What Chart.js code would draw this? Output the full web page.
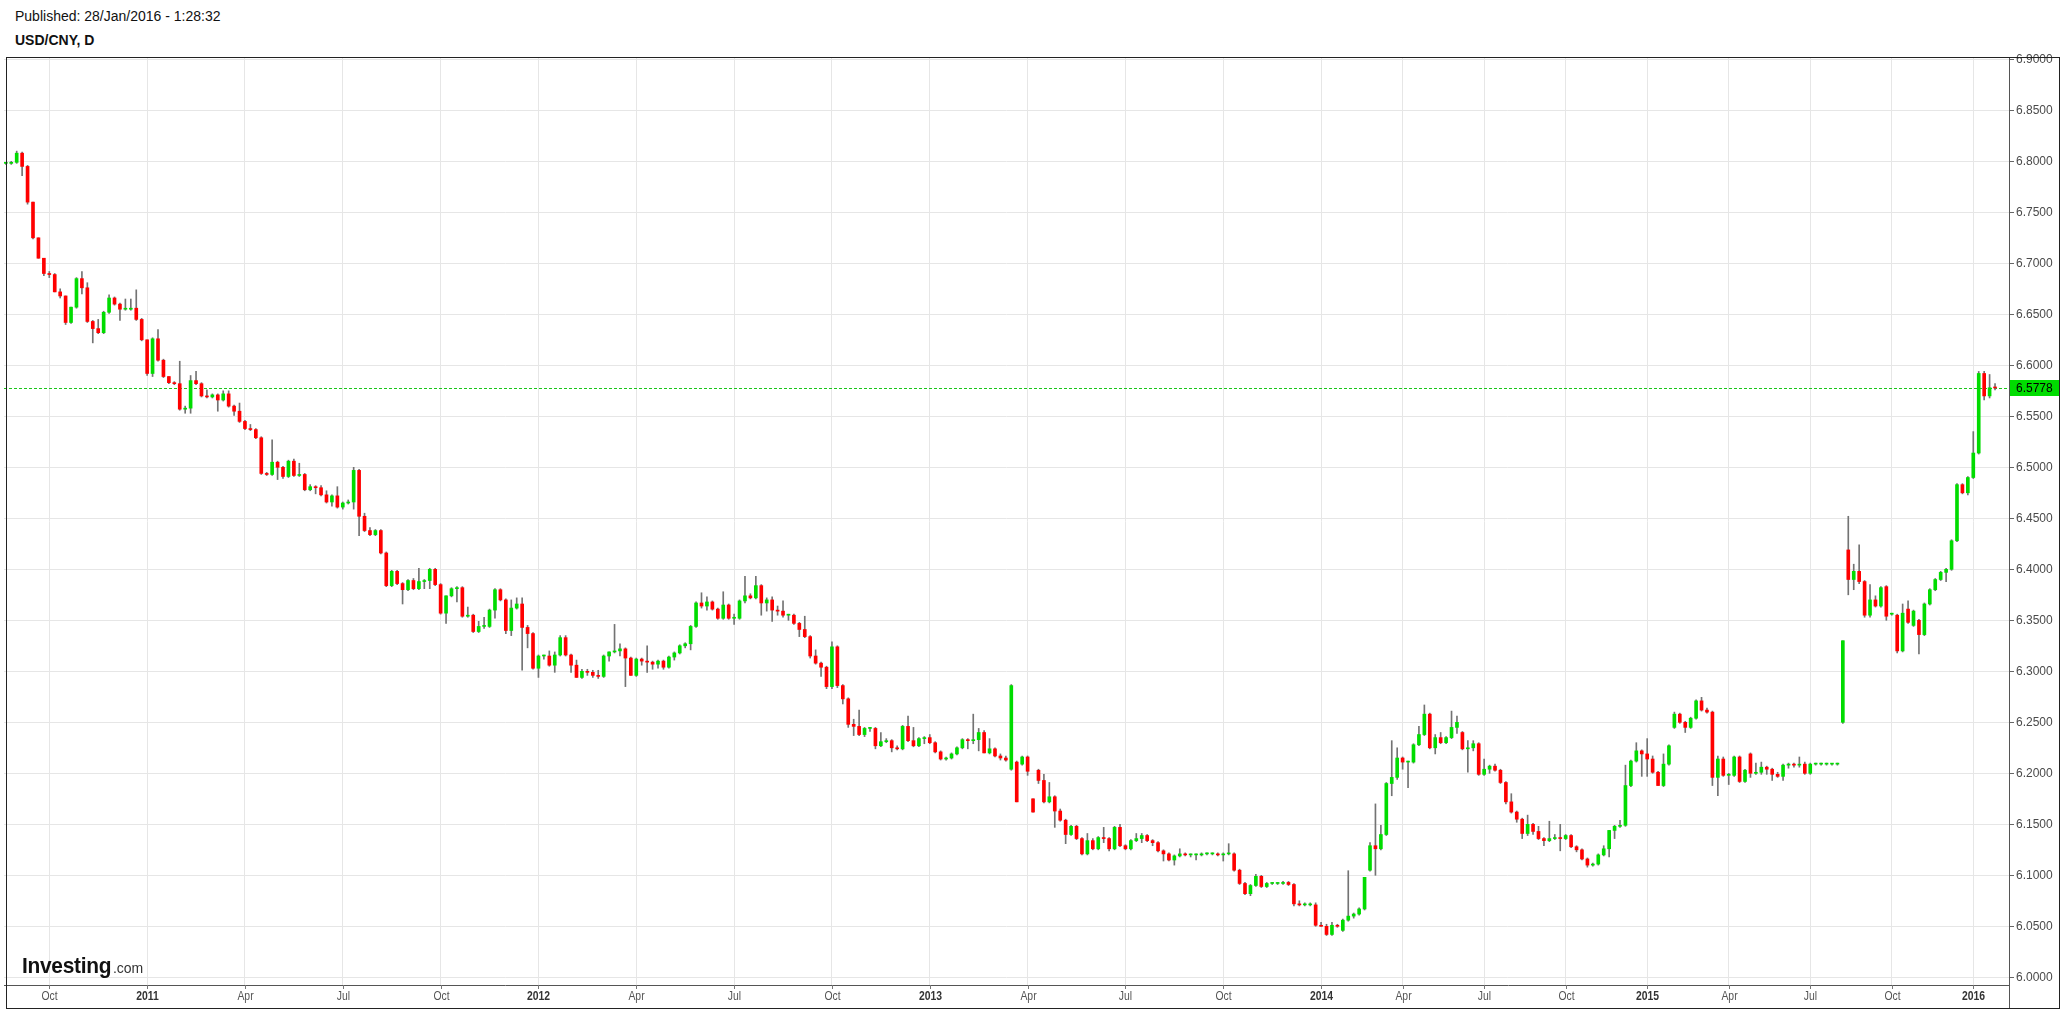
<!DOCTYPE html>
<html>
<head>
<meta charset="utf-8">
<script src="https://cdn.jsdelivr.net/npm/chart.js@4.4.1/dist/chart.umd.min.js"></script>
<style>
html,body{margin:0;padding:0;background:#fff;}
body{width:2061px;height:1010px;position:relative;overflow:hidden;font-family:"Liberation Sans",Arial,sans-serif;}
#pub{position:absolute;left:15px;top:8px;font-size:14px;color:#111;white-space:nowrap;}
#title{position:absolute;left:15px;top:32px;font-size:14px;font-weight:bold;color:#111;white-space:nowrap;}
#c{position:absolute;left:0;top:0;}
#logo{position:absolute;left:22px;top:953px;white-space:nowrap;color:#111;line-height:26px;}
#logo .inv{font-weight:bold;font-size:22px;letter-spacing:-0.3px;display:inline-block;transform:scaleX(0.95);transform-origin:left bottom;}
#logo .com{font-size:14px;color:#333;margin-left:-3px;}
</style>
</head>
<body>
<div id="pub">Published: 28/Jan/2016 - 1:28:32</div>
<div id="title">USD/CNY, D</div>
<canvas id="c" width="2061" height="1010"></canvas>
<div id="logo"><span class="inv">Investing</span><span class="com">.com</span></div>
<script>
// ---- Data (daily USD/CNY candles, sampled) ----
const open = [
6.798,6.798,6.799,6.808,6.795,6.760,6.725,6.705,6.690,6.689,
6.672,6.668,6.642,6.657,6.685,6.676,6.643,6.636,6.632,6.652,
6.666,6.660,6.655,6.655,6.656,6.645,6.625,6.592,6.626,6.605,
6.589,6.583,6.582,6.557,6.558,6.585,6.582,6.570,6.569,6.571,
6.566,6.572,6.560,6.555,6.545,6.538,6.537,6.529,6.494,6.493,
6.505,6.500,6.491,6.506,6.492,6.493,6.478,6.481,6.480,6.473,
6.466,6.472,6.461,6.465,6.466,6.497,6.452,6.438,6.434,6.438,
6.416,6.384,6.398,6.386,6.380,6.389,6.381,6.388,6.389,6.400,
6.385,6.357,6.374,6.381,6.382,6.354,6.355,6.339,6.344,6.344,
6.360,6.380,6.370,6.340,6.362,6.366,6.343,6.337,6.303,6.315,
6.315,6.306,6.316,6.333,6.316,6.306,6.294,6.300,6.299,6.296,
6.295,6.315,6.319,6.320,6.322,6.313,6.296,6.312,6.310,6.309,
6.307,6.310,6.304,6.314,6.318,6.325,6.327,6.344,6.367,6.364,
6.368,6.361,6.352,6.365,6.352,6.352,6.369,6.374,6.372,6.384,
6.367,6.370,6.360,6.359,6.355,6.355,6.347,6.341,6.334,6.315,
6.308,6.304,6.285,6.324,6.286,6.273,6.248,6.246,6.238,6.244,
6.244,6.227,6.231,6.232,6.225,6.224,6.246,6.232,6.227,6.234,
6.235,6.230,6.221,6.214,6.215,6.219,6.225,6.233,6.232,6.233,
6.240,6.220,6.224,6.217,6.215,6.204,6.211,6.209,6.216,6.175,
6.203,6.193,6.172,6.177,6.163,6.154,6.140,6.148,6.136,6.121,
6.134,6.126,6.137,6.136,6.126,6.147,6.129,6.126,6.134,6.136,
6.139,6.134,6.132,6.124,6.121,6.115,6.119,6.121,6.120,6.120,
6.120,6.121,6.121,6.121,6.120,6.121,6.121,6.105,6.092,6.082,
6.090,6.099,6.089,6.092,6.092,6.092,6.093,6.091,6.072,6.071,
6.071,6.071,6.051,6.050,6.042,6.051,6.046,6.056,6.060,6.062,
6.067,6.105,6.129,6.126,6.140,6.190,6.196,6.215,6.211,6.211,
6.228,6.238,6.258,6.225,6.235,6.230,6.235,6.245,6.240,6.224,
6.225,6.229,6.199,6.204,6.207,6.203,6.191,6.172,6.162,6.155,
6.141,6.150,6.143,6.136,6.134,6.136,6.137,6.136,6.139,6.128,
6.125,6.116,6.110,6.111,6.120,6.126,6.144,6.148,6.149,6.188,
6.212,6.222,6.219,6.214,6.201,6.188,6.209,6.245,6.258,6.250,
6.245,6.254,6.271,6.262,6.260,6.196,6.214,6.198,6.198,6.216,
6.192,6.219,6.200,6.201,6.206,6.204,6.199,6.197,6.208,6.209,
6.208,6.209,6.200,6.209,6.209,6.209,6.209,6.209,6.250,6.419,
6.390,6.398,6.388,6.355,6.370,6.364,6.383,6.356,6.355,6.320,
6.361,6.345,6.350,6.336,6.366,6.380,6.390,6.397,6.400,6.428,
6.483,6.475,6.490,6.514,6.592,6.570,6.578];
const high = [
6.799,6.800,6.810,6.809,6.796,6.760,6.725,6.705,6.692,6.690,
6.675,6.668,6.657,6.686,6.692,6.681,6.644,6.645,6.653,6.669,
6.667,6.661,6.665,6.665,6.674,6.646,6.625,6.627,6.635,6.606,
6.589,6.584,6.604,6.560,6.590,6.594,6.583,6.576,6.572,6.572,
6.575,6.575,6.561,6.563,6.546,6.542,6.538,6.530,6.495,6.527,
6.506,6.501,6.507,6.508,6.504,6.494,6.483,6.482,6.482,6.477,
6.473,6.481,6.466,6.468,6.500,6.498,6.455,6.441,6.439,6.439,
6.417,6.399,6.399,6.387,6.390,6.391,6.401,6.390,6.401,6.401,
6.386,6.374,6.382,6.383,6.383,6.363,6.356,6.349,6.353,6.361,
6.381,6.381,6.371,6.370,6.372,6.372,6.345,6.338,6.316,6.316,
6.320,6.319,6.335,6.335,6.317,6.311,6.302,6.302,6.301,6.301,
6.316,6.319,6.346,6.327,6.323,6.314,6.313,6.313,6.325,6.310,
6.311,6.311,6.315,6.319,6.326,6.328,6.345,6.368,6.377,6.373,
6.369,6.362,6.378,6.366,6.356,6.370,6.393,6.376,6.393,6.385,
6.372,6.373,6.364,6.369,6.356,6.356,6.348,6.354,6.335,6.321,
6.309,6.305,6.329,6.325,6.287,6.274,6.253,6.262,6.245,6.245,
6.245,6.240,6.234,6.233,6.227,6.247,6.256,6.245,6.235,6.236,
6.238,6.231,6.222,6.216,6.220,6.226,6.234,6.234,6.258,6.244,
6.242,6.234,6.225,6.219,6.217,6.287,6.212,6.217,6.217,6.175,
6.204,6.199,6.191,6.178,6.165,6.155,6.149,6.149,6.137,6.141,
6.136,6.138,6.147,6.137,6.148,6.150,6.130,6.135,6.141,6.141,
6.140,6.135,6.133,6.125,6.122,6.120,6.126,6.122,6.121,6.121,
6.122,6.122,6.122,6.122,6.122,6.131,6.122,6.106,6.093,6.091,
6.101,6.100,6.093,6.093,6.093,6.094,6.094,6.092,6.075,6.073,
6.073,6.073,6.054,6.052,6.054,6.052,6.057,6.1045,6.063,6.068,
6.098,6.132,6.170,6.149,6.191,6.232,6.225,6.216,6.212,6.229,
6.246,6.267,6.259,6.238,6.240,6.236,6.261,6.256,6.241,6.232,
6.232,6.230,6.214,6.208,6.209,6.204,6.192,6.180,6.163,6.156,
6.159,6.151,6.148,6.137,6.153,6.140,6.150,6.140,6.140,6.129,
6.126,6.117,6.112,6.121,6.129,6.144,6.149,6.154,6.208,6.213,
6.230,6.223,6.234,6.217,6.202,6.219,6.228,6.260,6.259,6.251,
6.255,6.272,6.2745,6.264,6.261,6.217,6.216,6.200,6.217,6.217,
6.204,6.220,6.210,6.211,6.207,6.205,6.201,6.209,6.210,6.210,
6.216,6.211,6.210,6.210,6.210,6.210,6.209,6.210,6.330,6.452,
6.405,6.424,6.389,6.385,6.374,6.383,6.384,6.357,6.356,6.366,
6.369,6.360,6.351,6.367,6.381,6.391,6.398,6.401,6.429,6.484,
6.484,6.491,6.535,6.594,6.594,6.591,6.582];
const low = [
6.797,6.797,6.798,6.786,6.758,6.724,6.705,6.688,6.686,6.672,
6.666,6.640,6.641,6.656,6.670,6.642,6.622,6.631,6.631,6.651,
6.659,6.644,6.654,6.654,6.644,6.624,6.590,6.589,6.604,6.588,
6.582,6.581,6.556,6.553,6.553,6.581,6.569,6.568,6.568,6.555,
6.565,6.559,6.551,6.544,6.537,6.536,6.528,6.493,6.492,6.492,
6.488,6.489,6.490,6.491,6.491,6.477,6.477,6.474,6.472,6.465,
6.462,6.460,6.459,6.464,6.459,6.433,6.437,6.433,6.433,6.415,
6.383,6.383,6.385,6.366,6.379,6.380,6.380,6.381,6.381,6.384,
6.356,6.347,6.373,6.368,6.353,6.353,6.338,6.338,6.342,6.343,
6.352,6.369,6.337,6.335,6.361,6.301,6.323,6.302,6.294,6.312,
6.305,6.299,6.315,6.315,6.299,6.294,6.293,6.296,6.294,6.293,
6.294,6.310,6.318,6.315,6.285,6.296,6.295,6.306,6.299,6.302,
6.303,6.302,6.303,6.311,6.317,6.323,6.321,6.343,6.362,6.360,
6.360,6.351,6.351,6.351,6.346,6.351,6.367,6.371,6.371,6.355,
6.359,6.349,6.355,6.353,6.350,6.346,6.334,6.333,6.313,6.307,
6.295,6.283,6.283,6.284,6.268,6.245,6.237,6.237,6.236,6.241,
6.224,6.226,6.230,6.221,6.223,6.223,6.231,6.226,6.226,6.229,
6.229,6.220,6.213,6.213,6.214,6.218,6.224,6.224,6.229,6.222,
6.220,6.219,6.216,6.213,6.212,6.203,6.172,6.208,6.198,6.162,
6.190,6.171,6.171,6.147,6.153,6.131,6.139,6.135,6.120,6.120,
6.125,6.125,6.132,6.124,6.125,6.128,6.125,6.125,6.133,6.132,
6.133,6.129,6.123,6.114,6.114,6.110,6.118,6.119,6.118,6.115,
6.119,6.120,6.120,6.119,6.114,6.120,6.104,6.091,6.081,6.080,
6.089,6.088,6.088,6.091,6.091,6.091,6.090,6.070,6.070,6.070,
6.070,6.050,6.050,6.041,6.041,6.049,6.045,6.055,6.058,6.061,
6.066,6.104,6.100,6.125,6.139,6.178,6.194,6.204,6.186,6.210,
6.227,6.237,6.224,6.219,6.229,6.229,6.234,6.239,6.223,6.201,
6.222,6.198,6.198,6.200,6.202,6.190,6.170,6.161,6.152,6.136,
6.139,6.140,6.135,6.129,6.133,6.135,6.124,6.135,6.127,6.123,
6.115,6.108,6.109,6.110,6.119,6.118,6.136,6.147,6.148,6.187,
6.211,6.197,6.197,6.200,6.188,6.187,6.208,6.244,6.249,6.240,
6.244,6.253,6.261,6.259,6.188,6.178,6.197,6.189,6.197,6.191,
6.191,6.196,6.199,6.199,6.199,6.193,6.196,6.193,6.205,6.206,
6.206,6.199,6.199,6.208,6.208,6.208,6.208,6.208,6.249,6.375,
6.380,6.386,6.353,6.353,6.363,6.363,6.350,6.355,6.318,6.319,
6.347,6.344,6.317,6.335,6.365,6.379,6.389,6.388,6.399,6.427,
6.474,6.473,6.489,6.513,6.566,6.568,6.576];
const close = [
6.798,6.799,6.808,6.795,6.760,6.725,6.705,6.690,6.689,6.672,
6.668,6.642,6.657,6.685,6.676,6.643,6.636,6.632,6.652,6.666,
6.660,6.655,6.655,6.656,6.645,6.625,6.592,6.626,6.605,6.589,
6.583,6.582,6.557,6.558,6.585,6.582,6.570,6.569,6.571,6.566,
6.572,6.560,6.555,6.545,6.538,6.537,6.529,6.494,6.493,6.505,
6.500,6.491,6.506,6.492,6.493,6.478,6.481,6.480,6.473,6.466,
6.472,6.461,6.465,6.466,6.497,6.452,6.438,6.434,6.438,6.416,
6.384,6.398,6.386,6.380,6.389,6.381,6.388,6.389,6.400,6.385,
6.357,6.374,6.381,6.382,6.354,6.355,6.339,6.344,6.344,6.360,
6.380,6.370,6.340,6.362,6.366,6.343,6.337,6.303,6.315,6.315,
6.306,6.316,6.333,6.316,6.306,6.294,6.300,6.299,6.296,6.295,
6.315,6.319,6.320,6.322,6.313,6.296,6.312,6.310,6.309,6.307,
6.310,6.304,6.314,6.318,6.325,6.327,6.344,6.367,6.364,6.368,
6.361,6.352,6.365,6.352,6.352,6.369,6.374,6.372,6.384,6.367,
6.370,6.360,6.359,6.355,6.355,6.347,6.341,6.334,6.315,6.308,
6.304,6.285,6.324,6.286,6.273,6.248,6.246,6.238,6.244,6.244,
6.227,6.231,6.232,6.225,6.224,6.246,6.232,6.227,6.234,6.235,
6.230,6.221,6.214,6.215,6.219,6.225,6.233,6.232,6.233,6.240,
6.220,6.224,6.217,6.215,6.213,6.286,6.172,6.216,6.202,6.162,
6.193,6.172,6.177,6.163,6.154,6.140,6.148,6.136,6.121,6.134,
6.126,6.137,6.136,6.126,6.147,6.129,6.126,6.134,6.136,6.139,
6.134,6.132,6.124,6.121,6.115,6.119,6.121,6.120,6.120,6.120,
6.121,6.121,6.121,6.120,6.121,6.121,6.105,6.092,6.082,6.090,
6.099,6.089,6.092,6.092,6.092,6.093,6.091,6.072,6.071,6.071,
6.071,6.051,6.050,6.042,6.051,6.050,6.056,6.060,6.062,6.067,
6.098,6.129,6.126,6.140,6.190,6.196,6.215,6.211,6.211,6.228,
6.238,6.258,6.225,6.235,6.230,6.235,6.245,6.250,6.224,6.225,
6.229,6.199,6.204,6.207,6.203,6.191,6.172,6.162,6.155,6.141,
6.150,6.143,6.136,6.134,6.136,6.137,6.136,6.139,6.128,6.125,
6.116,6.110,6.111,6.120,6.126,6.144,6.148,6.149,6.188,6.212,
6.222,6.219,6.214,6.201,6.188,6.209,6.227,6.258,6.250,6.245,
6.254,6.271,6.262,6.260,6.196,6.214,6.198,6.198,6.216,6.192,
6.203,6.200,6.201,6.206,6.204,6.199,6.197,6.208,6.209,6.208,
6.209,6.200,6.209,6.209,6.209,6.209,6.209,6.209,6.330,6.390,
6.398,6.388,6.355,6.370,6.364,6.382,6.354,6.356,6.320,6.357,
6.348,6.359,6.336,6.366,6.380,6.390,6.397,6.400,6.428,6.483,
6.475,6.490,6.514,6.592,6.570,6.578,6.5778];

// x-axis tick labels and the candle index where each period starts
const tickLabels = ['Oct','2011','Apr','Jul','Oct','2012','Apr','Jul','Oct','2013','Apr','Jul','Oct','2014','Apr','Jul','Oct','2015','Apr','Jul','Oct','2016'];
const tickIndex  = [8,26,44,62,80,98,116,134,152,170,188,206,224,242,257,272,287,302,317,332,347,362];
// y-axis tick values
const yTicks = [6.00,6.05,6.10,6.15,6.20,6.25,6.30,6.35,6.40,6.45,6.50,6.55,6.60,6.65,6.70,6.75,6.80,6.85,6.90];
const lastPrice = 6.5778;

// ---- Chart ----
const GREEN = '#00dc00', RED = '#ff0000', WICK = '#737373';
const idx = close.map((_, i) => i);
const bodyColors = idx.map(i => close[i] >= open[i] ? GREEN : RED);

const overlay = {
  id: 'overlay',
  beforeDatasetsDraw(chart) {
    const {ctx, chartArea: a, scales: {y}} = chart;
    const py = Math.round(y.getPixelForValue(lastPrice)) + 0.5;
    ctx.save();
    ctx.strokeStyle = '#19c819';
    ctx.lineWidth = 1;
    ctx.setLineDash([3, 2]);
    ctx.beginPath(); ctx.moveTo(a.left, py); ctx.lineTo(a.right, py); ctx.stroke();
    ctx.restore();
  },
  afterDraw(chart) {
    const {ctx, chartArea: a, scales: {x, y}} = chart;
    ctx.save();
    // x tick marks and labels
    tickIndex.forEach((t, k) => {
      const px = Math.round(x.getPixelForValue(t)) + 0.5;
      const lab = tickLabels[k];
      const isYear = /^\d{4}$/.test(lab);
      ctx.strokeStyle = '#777'; ctx.lineWidth = 1;
      ctx.beginPath(); ctx.moveTo(px, a.bottom); ctx.lineTo(px, a.bottom + 4); ctx.stroke();
      ctx.save();
      ctx.translate(px, a.bottom + 11);
      ctx.scale(0.8, 1);
      ctx.font = (isYear ? 'bold ' : '') + '13px "Liberation Sans", Arial, sans-serif';
      ctx.fillStyle = isYear ? '#333' : '#555';
      ctx.textAlign = 'center'; ctx.textBaseline = 'middle';
      ctx.fillText(lab, 0, 0);
      ctx.restore();
    });
    // right axis line continues to the bottom frame
    ctx.strokeStyle = '#555'; ctx.lineWidth = 1;
    ctx.beginPath(); ctx.moveTo(Math.round(a.right) + 0.5, a.top); ctx.lineTo(Math.round(a.right) + 0.5, 1009); ctx.stroke();
    // last price label on the axis
    const py = Math.round(y.getPixelForValue(lastPrice));
    ctx.fillStyle = '#00dc00';
    ctx.fillRect(Math.round(a.right) + 1, py - 8, chart.width - Math.round(a.right) - 2, 16);
    ctx.fillStyle = '#000';
    ctx.font = '12px "Liberation Sans", Arial, sans-serif';
    ctx.textAlign = 'left'; ctx.textBaseline = 'middle';
    ctx.fillText(lastPrice.toFixed(4), Math.round(a.right) + 7, py + 0.5);
    // outer frame
    ctx.strokeStyle = '#222'; ctx.lineWidth = 1;
    ctx.strokeRect(6.5, 57.5, 2053, 951);
    ctx.restore();
  }
};

new Chart(document.getElementById('c'), {
  type: 'bar',
  data: {
    datasets: [
      {
        label: 'body',
        data: idx.map(i => ({x: i, y: [open[i], close[i]]})),
        backgroundColor: bodyColors,
        borderWidth: 0,
        barThickness: 3,
        minBarLength: 1,
        grouped: false,
        order: 0
      },
      {
        label: 'wick',
        data: idx.map(i => ({x: i, y: [low[i], high[i]]})),
        backgroundColor: WICK,
        borderWidth: 0,
        barThickness: 1,
        minBarLength: 1,
        grouped: false,
        order: 1
      }
    ]
  },
  options: {
    responsive: false,
    animation: false,
    devicePixelRatio: 1,
    layout: {padding: {left: 4, top: 58, right: 0, bottom: 0}},
    plugins: {legend: {display: false}, tooltip: {enabled: false}},
    scales: {
      x: {
        type: 'linear',
        min: -0.335,
        max: 368.57,
        offset: false,
        afterBuildTicks: s => { s.ticks = tickIndex.map(v => ({value: v})); },
        afterFit: s => { s.height = 25; },
        grid: {color: '#e6e6e6', drawTicks: false, offset: false},
        border: {display: true, color: '#555'},
        ticks: {display: false, autoSkip: false}
      },
      y: {
        position: 'right',
        min: 5.99245,
        max: 6.9013,
        afterBuildTicks: s => { s.ticks = yTicks.map(v => ({value: v})); },
        afterFit: s => { s.width = 52; },
        grid: {color: '#e6e6e6', tickLength: 5, tickColor: '#666', offset: false},
        border: {display: true, color: '#555'},
        ticks: {
          padding: 2,
          color: '#4a4a4a',
          font: {size: 12, family: '"Liberation Sans", Arial, sans-serif'},
          callback: v => Number(v).toFixed(4)
        }
      }
    }
  },
  plugins: [overlay]
});
</script>
</body>
</html>
